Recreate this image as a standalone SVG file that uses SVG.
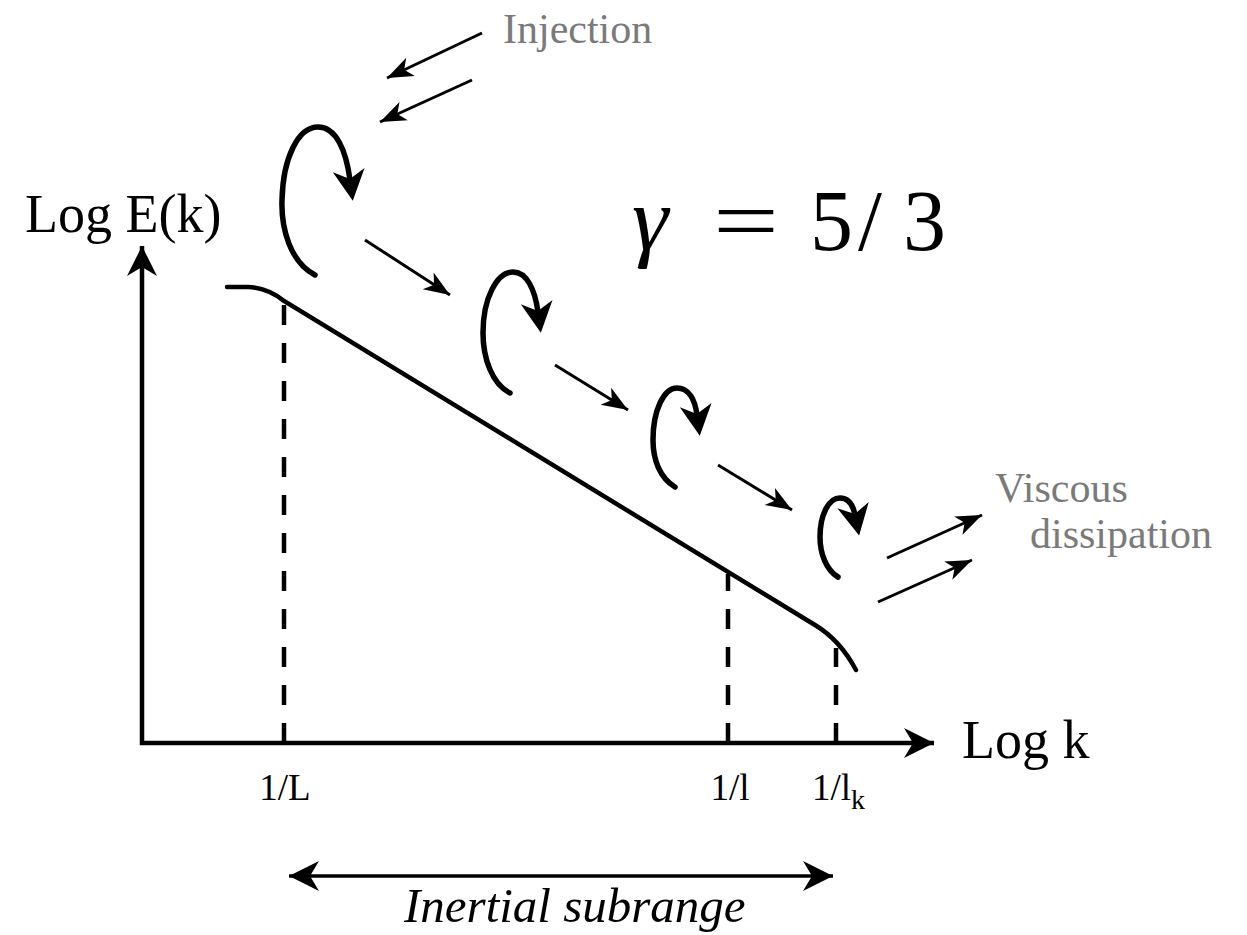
<svg xmlns="http://www.w3.org/2000/svg" width="1247" height="935" viewBox="0 0 1247 935">
  <style>
    .axis { fill: none; stroke: #000; stroke-width: 4.5; stroke-linejoin: miter; }
    .curve { fill: none; stroke: #000; stroke-width: 4.5; stroke-linecap: round; }
    .dash { fill: none; stroke: #000; stroke-width: 4.5; stroke-dasharray: 20 18; }
    .eddy { fill: none; stroke: #000; stroke-width: 5.5; stroke-linecap: round; }
    .thin { fill: none; stroke: #000; stroke-width: 3; }
    .lbl { font-family: "Liberation Serif", serif; fill: #000; }
    .gray { font-family: "Liberation Serif", serif; fill: #7a7a7a; }
    .ital { font-family: "Liberation Serif", serif; font-style: italic; fill: #000; }
    .math { font-family: "Liberation Serif", serif; fill: #000; font-size: 86px; }
  </style>
  <defs>
    <marker id="big" viewBox="-31 -16 33 32" refX="0" refY="0" markerWidth="33" markerHeight="32" markerUnits="userSpaceOnUse" orient="auto-start-reverse">
      <path d="M0,0 L-30,-15 L-21,0 L-30,15 Z" fill="#000"/>
    </marker>
    <marker id="eddyhead" viewBox="-12 -17 34 34" refX="0" refY="0" markerWidth="34" markerHeight="34" markerUnits="userSpaceOnUse" orient="auto">
      <path d="M21,0 L-10,-16 L-1,0 L-10,16 Z" fill="#000"/>
    </marker>
    <marker id="small" viewBox="-28 -11 30 22" refX="0" refY="0" markerWidth="30" markerHeight="22" markerUnits="userSpaceOnUse" orient="auto">
      <path d="M0,0 L-26,-10 L-19,0 L-26,10 Z" fill="#000"/>
    </marker>
  </defs>

  <g id="axes">
    <path class="axis" d="M142,246 L142,743 L934,743" marker-start="url(#big)" marker-end="url(#big)"/>
  </g>

  <g id="spectrum">
    <path class="curve" d="M227,287 L248,287 Q268,288 284,301 L815,625 Q840,640 856,670"/>
  </g>

  <g id="guides">
    <path class="dash" d="M284,743 L284,303"/>
    <path class="dash" d="M728,743 L728,574"/>
    <path class="dash" d="M836,743 L836,648"/>
  </g>

  <g id="eddies">
    <path id="eddy1" class="eddy" d="M315,275 C290,262 281,228 282,200 C283,158 298,127 318,127 C336,127 346,150 350,180" marker-end="url(#eddyhead)"/>
    <path id="eddy2" class="eddy" d="M510,393 C492,384 483,358 483,333 C483,298 497,272 513,272 C527,272 535,290 538,312" marker-end="url(#eddyhead)"/>
    <path id="eddy3" class="eddy" d="M675,487 C660,478 653,460 653,440 C653,410 664,388 677,388 C689,388 695,400 697,415" marker-end="url(#eddyhead)"/>
    <path id="eddy4" class="eddy" d="M838,577 C826,570 820,553 820,537 C820,514 829,498 840,498 C849,498 853,505 855,515" marker-end="url(#eddyhead)"/>
  </g>

  <g id="connectors">
    <line class="thin" x1="482" y1="33" x2="387" y2="78" marker-end="url(#small)"/>
    <line class="thin" x1="472" y1="80" x2="380" y2="122" marker-end="url(#small)"/>
    <line class="thin" x1="365" y1="240" x2="450" y2="295" marker-end="url(#small)"/>
    <line class="thin" x1="555" y1="365" x2="628" y2="410" marker-end="url(#small)"/>
    <line class="thin" x1="718" y1="465" x2="792" y2="510" marker-end="url(#small)"/>
    <line class="thin" x1="887" y1="558" x2="982" y2="515" marker-end="url(#small)"/>
    <line class="thin" x1="878" y1="602" x2="972" y2="560" marker-end="url(#small)"/>
    <path class="thin" style="stroke-width:3.5" d="M289,876 L833,876" marker-start="url(#big)" marker-end="url(#big)"/>
  </g>

  <g id="labels">
    <text class="lbl" x="25" y="232" font-size="54">Log E(k)</text>
    <text class="lbl" x="962" y="758" font-size="54">Log k</text>
    <text class="gray" x="503" y="43" font-size="42">Injection</text>
    <text class="gray" x="995" y="502" font-size="42">Viscous</text>
    <text class="gray" x="1030" y="548" font-size="42">dissipation</text>
    <text class="lbl" x="285" y="800" font-size="37" text-anchor="middle">1/L</text>
    <text class="lbl" x="730" y="800" font-size="37" text-anchor="middle">1/l</text>
    <text class="lbl" x="812" y="800" font-size="37">1/l<tspan font-size="28" dy="9">k</tspan></text>
    <text class="ital" x="404" y="922" font-size="49">Inertial subrange</text>
  </g>

  <g id="formula">
    <text class="math" x="632" y="250" font-style="italic" style="font-size:92px">γ</text>
    <text class="math" x="713" y="250" textLength="66" lengthAdjust="spacingAndGlyphs">=</text>
    <text class="math" x="810" y="250">5</text>
    <text class="math" x="858" y="250">/</text>
    <text class="math" x="903" y="250">3</text>
  </g>
</svg>
